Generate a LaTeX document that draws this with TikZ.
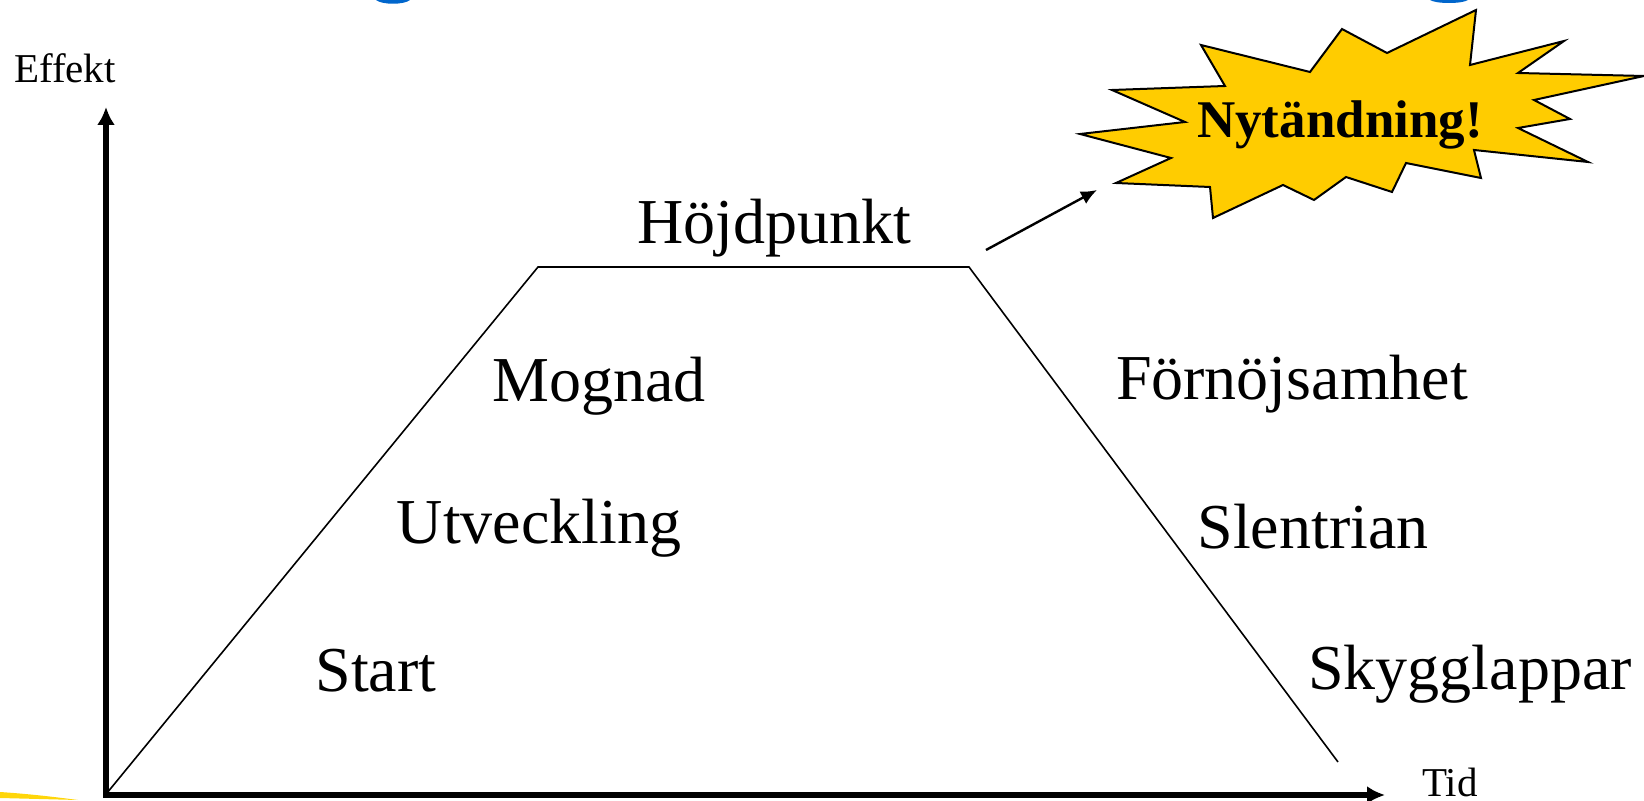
\documentclass[tikz,border=0pt]{standalone}
\usepackage{fontspec}
\setmainfont{Liberation Serif}
\usetikzlibrary{arrows.meta}
\definecolor{burstyellow}{RGB}{255,204,0}
\definecolor{streakyellow}{RGB}{255,214,10}
\definecolor{titleblue}{RGB}{0,102,204}
\begin{document}
\begin{tikzpicture}[x=0.5pt, y=-0.5pt, >={Latex[length=9pt,width=9pt]},
  phase/.style={font=\fontsize{32}{38}\selectfont, inner sep=0pt},
  axislabel/.style={font=\fontsize{20.5}{24}\selectfont, inner sep=0pt}]
\useasboundingbox (0,0) rectangle (1644,801);
% bits of the slide round the picture
\fill[titleblue] (376,0) .. controls (382,5) and (404,5) .. (410,0) -- cycle;
\fill[titleblue] (1430,0) .. controls (1436,4) and (1462,4) .. (1468,0) -- cycle;
\fill[streakyellow] (0,792) .. controls (30,794) and (55,797) .. (78,800) -- (0,798) -- cycle;
% axes
\coordinate (ytip) at (106,107);
\coordinate (O) at (106,795);
\coordinate (xtip) at (1385,795);
\draw[<->, line width=3pt, line join=miter] (ytip)--(O)--(xtip);
\node[axislabel] (effekt) at (65,68) {Effekt};
\node[axislabel] (tid) at (1450,782) {Tid};
% the curve
\coordinate (c0) at (107,793);
\coordinate (c1) at (538,267);
\coordinate (c2) at (969,267);
\coordinate (c3) at (1338,762);
\draw[line width=0.8pt] (c0)--(c1)--(c2)--(c3);
\node[phase] (hojd) at (774,228) {Höjdpunkt};
\node[phase] (mogn) at (599,386) {Mognad};
\node[phase] (forn) at (1292,384) {Förnöjsamhet};
\node[phase] (utv) at (539,528) {Utveckling};
\node[phase] (slen) at (1313,527) {Slentrian};
\node[phase] (start) at (376,671) {Start};
\node[phase] (skyg) at (1470,674) {Skygglappar};
% the burst
\filldraw[fill=burstyellow, draw=black, line width=1pt]
  (1476,10)--(1470,65)--(1564,41)--(1518,73)--(1644,76)--(1534,100)--(1570,119)
  --(1518,128)--(1588,162)--(1474,150)--(1481,178)--(1406,163)--(1392,192)
  --(1346,177)--(1314,200)--(1283,185)--(1213,218)--(1210,187)--(1116,183)
  --(1171,158)--(1080,134)--(1185,122)--(1112,90)--(1225,86)--(1201,45)
  --(1310,72)--(1342,29)--(1387,53)--cycle;
\node[font=\bfseries\fontsize{26.5}{30}\selectfont, inner sep=0pt] (burst) at (1340,125) {Nytändning!};
\coordinate (aim0) at (986,250);
\coordinate (aim1) at (1097,190);
\draw[->, line width=1.2pt, >={Latex[length=8pt,width=7pt]}] (aim0)--(aim1);
\end{tikzpicture}
\end{document}
